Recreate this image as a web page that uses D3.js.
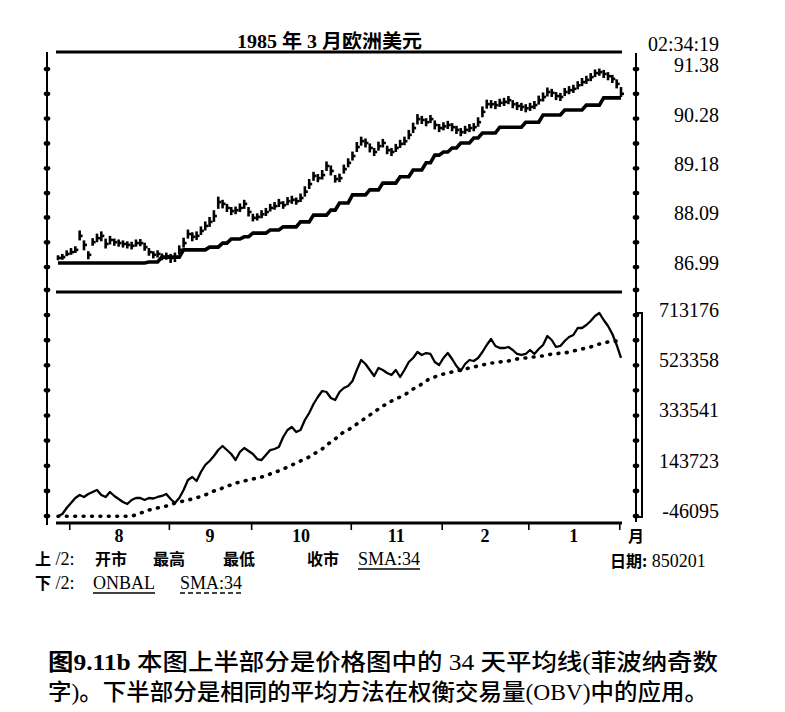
<!DOCTYPE html>
<html>
<head>
<meta charset="utf-8">
<script src="https://cdn.jsdelivr.net/npm/d3@7"></script>
<style>
  body { margin: 0; background: #fff; }
  svg { display: block; }
</style>
</head>
<body>
<div id="chart"></div>
<script>
// 1985 年 3 月欧洲美元 — daily bars, late Jul 1984 .. 1 Feb 1985

// price bars (high / low / close)
const high = [
  87.25,87.28,87.36,87.41,87.45,87.80,87.58,87.34,87.63,87.73,
  87.78,87.62,87.68,87.62,87.60,87.58,87.56,87.55,87.60,87.61,
  87.53,87.41,87.34,87.36,87.29,87.31,87.28,87.31,87.47,87.64,
  87.82,87.76,87.78,87.89,88.00,88.10,88.25,88.55,88.48,88.39,
  88.32,88.33,88.40,88.48,88.32,88.17,88.18,88.25,88.30,88.39,
  88.43,88.50,88.45,88.54,88.57,88.53,88.62,88.78,88.94,89.10,
  89.05,89.14,89.33,89.24,89.03,89.06,89.26,89.40,89.55,89.76,
  89.88,89.84,89.73,89.63,89.77,89.83,89.68,89.63,89.72,89.81,
  89.88,90.03,90.19,90.38,90.34,90.29,90.36,90.24,90.16,90.20,
  90.23,90.18,90.12,90.07,90.12,90.16,90.18,90.31,90.55,90.70,
  90.69,90.67,90.72,90.74,90.78,90.69,90.65,90.63,90.60,90.63,
  90.67,90.79,90.86,90.97,90.94,90.87,90.85,90.96,91.00,91.03,
  91.11,91.18,91.23,91.29,91.37,91.39,91.36,91.31,91.25,91.15,
  90.98
];
const low = [
  87.14,87.15,87.23,87.26,87.30,87.58,87.36,87.16,87.46,87.54,
  87.56,87.40,87.49,87.46,87.44,87.42,87.40,87.38,87.44,87.45,
  87.35,87.24,87.18,87.20,87.14,87.15,87.08,87.10,87.27,87.42,
  87.62,87.56,87.59,87.70,87.80,87.88,87.99,88.28,88.29,88.21,
  88.14,88.16,88.21,88.28,88.11,88.00,88.02,88.07,88.12,88.22,
  88.26,88.32,88.28,88.36,88.39,88.37,88.43,88.55,88.72,88.90,
  88.87,88.93,89.12,89.02,88.86,88.87,89.06,89.20,89.35,89.54,
  89.68,89.64,89.53,89.45,89.57,89.64,89.49,89.45,89.54,89.63,
  89.69,89.82,89.96,90.15,90.16,90.11,90.18,90.04,89.98,90.02,
  90.05,90.00,89.94,89.89,89.94,89.98,90.00,90.10,90.31,90.50,
  90.51,90.49,90.54,90.56,90.60,90.51,90.47,90.45,90.42,90.45,
  90.49,90.59,90.66,90.77,90.76,90.69,90.67,90.78,90.82,90.85,
  90.93,91.00,91.05,91.11,91.20,91.23,91.18,91.13,91.07,90.95,
  90.76
];
const close = [
  87.19,87.21,87.28,87.32,87.37,87.68,87.48,87.26,87.54,87.63,
  87.68,87.50,87.59,87.54,87.52,87.50,87.48,87.46,87.52,87.52,
  87.43,87.32,87.26,87.28,87.21,87.23,87.19,87.21,87.37,87.52,
  87.72,87.66,87.68,87.79,87.90,87.99,88.12,88.43,88.39,88.30,
  88.23,88.25,88.30,88.39,88.21,88.08,88.10,88.16,88.21,88.30,
  88.34,88.41,88.36,88.45,88.48,88.45,88.52,88.66,88.83,89.01,
  88.96,89.03,89.23,89.12,88.94,88.96,89.16,89.30,89.45,89.65,
  89.78,89.74,89.63,89.54,89.67,89.74,89.58,89.54,89.63,89.72,
  89.78,89.92,90.07,90.27,90.25,90.20,90.27,90.14,90.07,90.11,
  90.14,90.09,90.03,89.98,90.03,90.07,90.09,90.20,90.43,90.60,
  90.60,90.58,90.63,90.65,90.69,90.60,90.56,90.54,90.51,90.54,
  90.58,90.69,90.76,90.87,90.85,90.78,90.76,90.87,90.91,90.94,
  91.02,91.09,91.14,91.20,91.29,91.31,91.27,91.22,91.16,91.05,
  90.83
];
// SMA:34 of price, as printed (stepped)
const priceSma = [
  87.08,87.08,87.08,87.08,87.08,87.08,87.08,87.08,87.08,87.08,
  87.08,87.08,87.08,87.08,87.08,87.08,87.08,87.08,87.08,87.08,
  87.08,87.10,87.10,87.10,87.21,87.21,87.21,87.21,87.21,87.37,
  87.37,87.37,87.37,87.37,87.37,87.43,87.43,87.43,87.52,87.52,
  87.61,87.61,87.61,87.66,87.66,87.74,87.74,87.74,87.74,87.81,
  87.81,87.81,87.88,87.88,87.88,87.88,87.99,87.99,87.99,88.14,
  88.14,88.14,88.14,88.25,88.25,88.41,88.41,88.41,88.59,88.59,
  88.59,88.59,88.70,88.70,88.70,88.85,88.85,88.85,88.85,88.99,
  88.99,88.99,89.14,89.14,89.14,89.30,89.30,89.47,89.47,89.54,
  89.54,89.63,89.63,89.74,89.74,89.74,89.85,89.85,89.96,89.96,
  89.96,89.96,90.09,90.09,90.09,90.09,90.09,90.09,90.20,90.20,
  90.20,90.20,90.36,90.36,90.36,90.36,90.36,90.47,90.47,90.47,
  90.47,90.47,90.58,90.58,90.58,90.58,90.74,90.74,90.74,90.74,
  90.74
];
// ONBAL (on-balance volume) and its SMA:34
const obv = [
  -47000,-38500,-15900,3000,21900,33200,25700,37000,44600,52100,
  33200,25700,44600,29500,18100,6800,-800,14300,21900,21900,
  14300,21900,20000,25700,29500,37000,18100,3000,21900,52100,
  89900,101200,86100,120100,146600,161700,180600,203200,218300,203200,
  188100,165400,195700,210800,199400,188100,169200,165400,184300,203200,
  207000,214600,252300,278800,290100,271200,278800,316500,343000,377000,
  403400,426100,422300,399700,392100,422300,437400,445000,463900,505400,
  543200,528100,505400,482800,513000,505400,494100,486500,505400,479000,
  505400,535600,550800,573400,562100,569600,565900,535600,524300,550800,
  569600,547000,520500,501600,528100,543200,539400,550800,573400,599900,
  622500,596100,588500,588500,592300,581000,565900,562100,565900,581000,
  565900,584700,599900,633900,618700,592300,596100,615000,630100,637600,
  664100,664100,675400,690500,709400,720700,694300,671600,641400,599900,
  550800
];
const obvSma = [
  -47000,-47000,-47000,-47000,-47000,-47000,-47000,-47000,-47000,-47000,
  -47000,-47000,-47000,-47000,-47000,-47000,-47000,-46100,-42300,-34800,
  -31000,-23400,-19700,-15900,-12100,-8300,-4500,3000,6800,10600,
  14300,18100,21900,29500,33200,40800,48300,52100,59700,67200,
  71000,78600,82300,86100,89900,93700,97400,101200,105000,112600,
  120100,123900,131400,139000,146600,154100,161700,169200,176800,188100,
  195700,207000,222100,233400,244800,259900,271200,278800,290100,301400,
  312800,324100,335400,346800,358100,369400,377000,388300,395900,403400,
  411000,422300,433700,441200,452500,463900,475200,479000,486500,490300,
  494100,497900,501600,505400,509200,513000,516700,520500,524300,528100,
  531800,531800,535600,539400,539400,543200,546900,550700,550700,554500,
  554500,558300,558300,562100,565800,565800,569600,569600,573400,577200,
  580900,584700,588500,592300,599900,603600,607400,611200,611200,614900,
  614900
];

// axis ticks and labels
const priceTicks = [86.99, 87.54, 88.09, 88.63, 89.18, 89.73, 90.28, 90.83, 91.38];
const priceLabels = [[86.99, '86.99'], [88.09, '88.09'], [89.18, '89.18'], [90.28, '90.28'], [91.38, '91.38']];
const obvTicks = [-46095, 48814, 143723, 238632, 333541, 428450, 523358, 618267, 713176, 808085];
const obvLabels = [[-46095, '-46095'], [143723, '143723'], [333541, '333541'], [523358, '523358'], [713176, '713176']];
const monthStarts = [3, 26, 45, 68, 89, 109, 130];   // bar index of first day of each month
const monthLabels = ['8', '9', '10', '11', '2', '1'];

const SERIF = "'Liberation Serif', 'DejaVu Serif', serif";
const MIXED = "'Liberation Serif', 'Noto Sans CJK SC', serif";
const CJK = "'Noto Sans CJK SC', sans-serif";

const W = 785, H = 712;
const svg = d3.select('#chart')
  .append('svg')
  .attr('width', W)
  .attr('height', H)
  .style('background', '#fff');

const days = d3.range(close.length);
const x = d3.scaleLinear().domain([0, close.length - 1]).range([58, 621]);
const yP = d3.scaleLinear().domain([86.99, 91.38]).range([267, 69]);
const yV = d3.scaleLinear().domain([-46095, 713176]).range([516, 315]);

// frame: heavy rules and the two vertical axes
const frame = svg.append('g').attr('stroke', '#000').attr('fill', 'none');
[52, 292, 523].forEach(yy => {
  frame.append('line').attr('x1', 56).attr('x2', 622).attr('y1', yy).attr('y2', yy).attr('stroke-width', 3);
});
frame.append('line').attr('x1', 47).attr('x2', 47).attr('y1', 52).attr('y2', 525).attr('stroke-width', 2);
frame.append('line').attr('x1', 636).attr('x2', 636).attr('y1', 53).attr('y2', 522).attr('stroke-width', 2);
frame.append('rect').attr('x', 636).attr('y', 313).attr('width', 6).attr('height', 204).attr('stroke-width', 2);

// dot ticks on both vertical axes
function dotTicks(scale, values) {
  [47, 636].forEach(ax => {
    svg.append('g').selectAll('ellipse').data(values).enter().append('ellipse')
      .attr('cx', ax)
      .attr('cy', d => scale(d))
      .attr('rx', 3.3)
      .attr('ry', 2.3)
      .attr('fill', '#000');
  });
}
dotTicks(yP, priceTicks);
dotTicks(yV, obvTicks);

// right-hand labels
function rightLabels(scale, labels, dy) {
  svg.append('g').selectAll('text').data(labels).enter().append('text')
    .attr('x', 719)
    .attr('y', d => scale(d[0]) + dy)
    .attr('text-anchor', 'end')
    .attr('font-family', SERIF)
    .attr('font-size', 20)
    .text(d => d[1]);
}
rightLabels(yP, priceLabels, 3);
rightLabels(yV, obvLabels, 2);
svg.append('text').attr('x', 719).attr('y', 51).attr('text-anchor', 'end')
  .attr('font-family', SERIF).attr('font-size', 20).text('02:34:19');

// month axis
const monthAxis = d3.axisBottom(x)
  .tickValues(monthStarts.map(i => i - 0.4))
  .tickSize(7)
  .tickFormat('');
const gm = svg.append('g').attr('transform', 'translate(0,523)').call(monthAxis);
gm.select('.domain').remove();
gm.selectAll('.tick line').attr('stroke', '#000').attr('stroke-width', 1.6);

svg.append('g').selectAll('text').data(monthLabels).enter().append('text')
  .attr('x', (d, i) => x((monthStarts[i] + monthStarts[i + 1]) / 2 - 0.4))
  .attr('y', 542)
  .attr('text-anchor', 'middle')
  .attr('font-family', SERIF)
  .attr('font-weight', 'bold')
  .attr('font-size', 18)
  .text(d => d);
svg.append('text').attr('x', 636).attr('y', 542).attr('text-anchor', 'middle')
  .attr('font-family', CJK).attr('font-weight', 'bold').attr('font-size', 16).text('月');

// upper panel: high-low bars with close tick
const bars = svg.append('g').attr('stroke', '#000').attr('stroke-width', 2.6);
bars.selectAll('line.hl').data(days).enter().append('line')
  .attr('class', 'hl')
  .attr('x1', i => x(i)).attr('x2', i => x(i))
  .attr('y1', i => yP(high[i])).attr('y2', i => yP(low[i]));
bars.selectAll('line.cl').data(days).enter().append('line')
  .attr('class', 'cl')
  .attr('x1', i => x(i)).attr('x2', i => x(i) + 3)
  .attr('y1', i => yP(close[i])).attr('y2', i => yP(close[i]));

svg.append('path')
  .datum(days)
  .attr('fill', 'none')
  .attr('stroke', '#000')
  .attr('stroke-width', 3.6)
  .attr('d', d3.line().x(i => x(i)).y(i => yP(priceSma[i])));

// lower panel: ONBAL and its dotted SMA
svg.append('path')
  .datum(days)
  .attr('fill', 'none')
  .attr('stroke', '#000')
  .attr('stroke-width', 2.3)
  .attr('stroke-linejoin', 'round')
  .attr('d', d3.line().x(i => x(i)).y(i => yV(obv[i])));

svg.append('path')
  .datum(days)
  .attr('fill', 'none')
  .attr('stroke', '#000')
  .attr('stroke-width', 3.6)
  .attr('stroke-linecap', 'round')
  .attr('stroke-dasharray', '0.8 7.6')
  .attr('d', d3.line().x(i => x(i)).y(i => yV(obvSma[i])));

// title
svg.append('text')
  .attr('x', 237).attr('y', 48)
  .attr('font-family', MIXED)
  .attr('font-weight', 'bold')
  .attr('font-size', 19)
  .attr('textLength', 185)
  .attr('lengthAdjust', 'spacingAndGlyphs')
  .text('1985 年 3 月欧洲美元');

// legend rows
function label(xx, yy, cjk, latin, opts = {}) {
  const t = svg.append('text').attr('x', xx).attr('y', yy).attr('font-size', 16);
  if (cjk) t.append('tspan').attr('font-family', CJK).attr('font-weight', 'bold').text(cjk);
  if (latin) t.append('tspan').attr('font-family', SERIF).attr('font-size', 18).text(latin);
  if (opts.underline) {
    const w = t.node().getComputedTextLength();
    svg.append('line')
      .attr('x1', xx).attr('x2', xx + w)
      .attr('y1', yy + 4).attr('y2', yy + 4)
      .attr('stroke', '#000').attr('stroke-width', 1.3)
      .attr('stroke-dasharray', opts.underline === 'dash' ? '5 3' : null);
  }
  return t;
}
label(35, 565, '上', ' /2: ');
label(95, 565, '开市');
label(153, 565, '最高');
label(223, 565, '最低');
label(307, 565, '收市');
label(358, 565, null, 'SMA:34', { underline: 'solid' });
label(35, 589, '下', ' /2: ');
label(93, 589, null, 'ONBAL', { underline: 'solid' });
label(180, 589, null, 'SMA:34', { underline: 'dash' });
label(610, 567, '日期:', ' 850201');

// caption
const cap1 = svg.append('text').attr('x', 48).attr('y', 670).attr('font-size', 23)
  .attr('textLength', 670).attr('lengthAdjust', 'spacingAndGlyphs');
cap1.append('tspan').attr('font-family', CJK).attr('font-weight', 'bold').text('图');
cap1.append('tspan').attr('font-family', SERIF).attr('font-weight', 'bold').text('9.11b  ');
cap1.append('tspan').attr('font-family', MIXED).attr('font-weight', 500).text('本图上半部分是价格图中的 34 天平均线(菲波纳奇数');

svg.append('text').attr('x', 48).attr('y', 700).attr('font-size', 23)
  .attr('font-family', MIXED).attr('font-weight', 500)
  .attr('textLength', 660).attr('lengthAdjust', 'spacingAndGlyphs')
  .text('字)。下半部分是相同的平均方法在权衡交易量(OBV)中的应用。');
</script>
</body>
</html>
